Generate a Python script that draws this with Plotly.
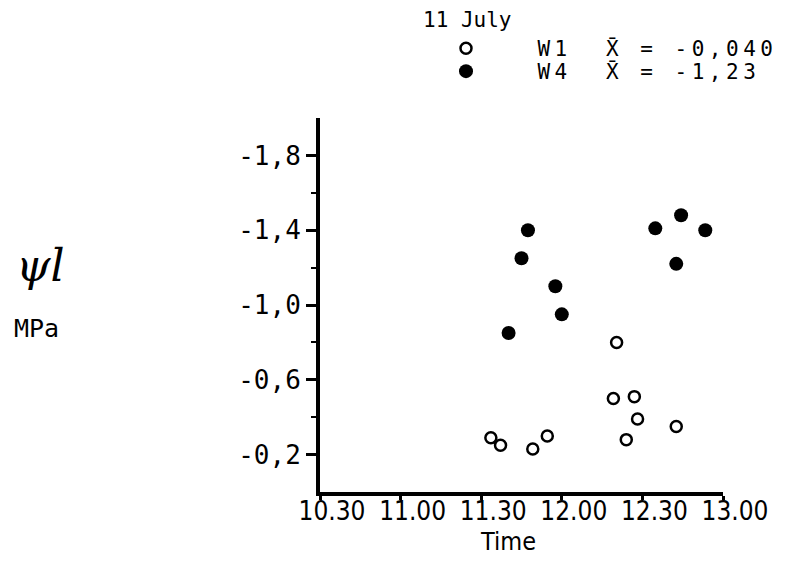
import plotly.graph_objects as go

# Axis ticks
time_ticks = [10.5, 11.0, 11.5, 12.0, 12.5, 13.0]
time_labels = ["10.30", "11.00", "11.30", "12.00", "12.30", "13.00"]
psi_major = [-1.8, -1.4, -1.0, -0.6, -0.2]
psi_major_labels = ["-1,8", "-1,4", "-1,0", "-0,6", "-0,2"]
psi_minor = [-1.6, -1.2, -0.8, -0.4]

# Series (time in decimal hours, leaf water potential in MPa)
w1_time = [11.56, 11.62, 11.82, 11.91, 12.34, 12.32, 12.45, 12.47, 12.71, 12.40]
w1_psi = [-0.29, -0.25, -0.23, -0.30, -0.80, -0.50, -0.51, -0.39, -0.35, -0.28]
w4_time = [11.67, 11.75, 11.79, 11.96, 12.00, 12.58, 12.74, 12.89, 12.71]
w4_psi = [-0.85, -1.25, -1.40, -1.10, -0.95, -1.41, -1.48, -1.40, -1.22]

w1_mean = "-0,040"
w4_mean = "-1,23"

NB = "\u00a0"
mono = "DejaVu Sans Mono, monospace"
narrow = "DejaVu Sans Condensed, Liberation Sans Narrow, Liberation Sans, sans-serif"

def legend_name(label, mean):
    s = NB * 3 + label + NB * 2 + "X\u0304" + NB + "=" + NB + mean
    return '<span style="letter-spacing:4.5px">' + s + "</span>"

fig = go.Figure()
fig.add_trace(go.Scatter(
    x=w1_time, y=w1_psi, mode="markers", name=legend_name("W1", w1_mean), legend="legend",
    marker=dict(symbol="circle-open", size=11, color="black", line=dict(width=2.5, color="black")),
))
fig.add_trace(go.Scatter(
    x=w4_time, y=w4_psi, mode="markers", name=legend_name("W4", w4_mean), legend="legend2",
    marker=dict(symbol="circle", size=14, color="black"),
))

L, R, T, B = 320, 83, 118, 76
W, H = 806, 568
pw, ph = W - L - R, H - T - B

def px(x):
    return (x - L) / pw

def py(y):
    return (H - B - y) / ph

leg_font = dict(family=mono, size=21, color="black")

fig.update_layout(
    width=W, height=H,
    margin=dict(l=L, r=R, t=T, b=B),
    paper_bgcolor="white", plot_bgcolor="white",
    showlegend=True,
    legend=dict(x=px(446), y=py(28), xanchor="left", yanchor="top",
                font=leg_font, bgcolor="rgba(0,0,0,0)"),
    legend2=dict(x=px(446), y=py(51), xanchor="left", yanchor="top",
                 font=leg_font, bgcolor="rgba(0,0,0,0)"),
    xaxis=dict(
        range=[10.5, 13.0], tickvals=time_ticks, ticktext=time_labels,
        showgrid=False, zeroline=False, showline=True, linewidth=4, linecolor="black",
        ticks="outside", ticklen=4, tickwidth=3, tickcolor="black",
        ticklabelshift=12, ticklabelstandoff=-11,
        tickfont=dict(family=narrow, size=26, color="black"),
    ),
    yaxis=dict(
        range=[0, -2.0], tickvals=psi_major, ticktext=psi_major_labels,
        showgrid=False, zeroline=False, showline=True, linewidth=4, linecolor="black",
        ticks="outside", ticklen=10, tickwidth=3, tickcolor="black",
        minor=dict(tickvals=psi_minor, ticks="outside", ticklen=5, tickwidth=2, tickcolor="black"),
        tickfont=dict(family=mono, size=26, color="black"),
    ),
    annotations=[
        dict(text="11 July", x=px(467), y=py(20), xref="paper", yref="paper",
             xanchor="center", yanchor="middle",
             showarrow=False, font=dict(family=mono, size=21, color="black")),
        dict(text="Time", x=px(508), y=py(541), xref="paper", yref="paper",
             xanchor="center", yanchor="middle",
             showarrow=False, font=dict(family=narrow, size=25, color="black")),
        dict(text="<i>\u03c8l</i>", x=px(40), y=py(265), xref="paper", yref="paper",
             xanchor="center", yanchor="middle",
             showarrow=False, font=dict(family="DejaVu Serif, serif", size=44, color="black")),
        dict(text="MPa", x=px(36), y=py(328), xref="paper", yref="paper",
             xanchor="center", yanchor="middle",
             showarrow=False, font=dict(family=mono, size=25, color="black")),
    ],
)

fig.write_html("out.html")
